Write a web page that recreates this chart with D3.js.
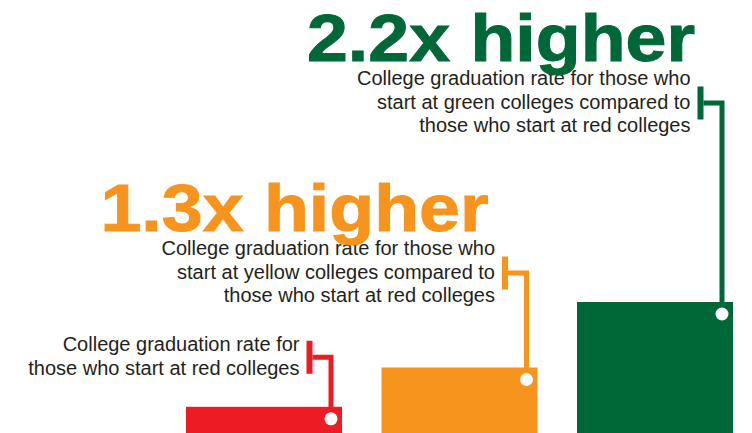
<!DOCTYPE html>
<html>
<head>
<meta charset="utf-8">
<script src="https://cdn.jsdelivr.net/npm/d3@7"></script>
<style>
  html, body { margin: 0; padding: 0; background: #fff; }
  svg { display: block; }
  .opis { font-family: "Liberation Sans", Arial, sans-serif; font-size: 20px; fill: #231f20; }
  .naslov { font-family: "Liberation Sans", Arial, sans-serif; font-size: 66px; font-weight: bold; }
</style>
</head>
<body>
<div id="okvir"></div>
<script>
// data
const categories = ["red", "yellow", "green"]
const barValues = [20, 50, 100]
const headlines = [null, "1.3x higher", "2.2x higher"]
const captions = [
  ["College graduation rate for", "those who start at red colleges"],
  ["College graduation rate for those who", "start at yellow colleges compared to", "those who start at red colleges"],
  ["College graduation rate for those who", "start at green colleges compared to", "those who start at red colleges"],
]

// layout of the annotations (first caption baseline, headline shift)
const captionTop = [351, 255, 85]
const headlineShift = [0, -38, -27]

function crtaj() {
  const dimenzije = { sirina: 752, visina: 433 }
  const lineH = 23.5

  const boja = d3.scaleOrdinal()
    .domain(categories)
    .range(["#ed1c24", "#f7941d", "#006837"])

  const xSkala = d3.scaleBand()
    .domain(categories)
    .range([186, 733])
    .paddingInner(0.202)
    .paddingOuter(0)

  const ySkala = d3.scaleLinear()
    .domain([0, 100])
    .range([dimenzije.visina, 302])

  const okvir = d3.select("#okvir")
    .append("svg")
    .attr("width", dimenzije.sirina)
    .attr("height", dimenzije.visina)

  const podaci = categories.map((c, i) => ({
    cat: c,
    value: barValues[i],
    headline: headlines[i],
    caption: captions[i],
    top: captionTop[i],
    shift: headlineShift[i],
  }))

  // bars
  okvir.selectAll(".stupac")
    .data(podaci)
    .enter().append("rect")
      .attr("class", "stupac")
      .attr("x", d => xSkala(d.cat))
      .attr("y", d => ySkala(d.value))
      .attr("width", xSkala.bandwidth())
      .attr("height", d => ySkala(0) - ySkala(d.value))
      .attr("fill", d => boja(d.cat))

  const anot = okvir.selectAll(".anot")
    .data(podaci)
    .enter().append("g")
      .attr("class", "anot")

  anot.each(function(d) {
    const g = d3.select(this)
    const col = boja(d.cat)
    const cx = xSkala(d.cat) + xSkala.bandwidth() - 11
    const barTop = ySkala(d.value)
    const n = d.caption.length
    const midY = d.top + (n - 1) * lineH / 2 - 5.5
    const bracketX = cx - 24.5

    // bracket
    g.append("rect")
      .attr("x", bracketX)
      .attr("y", midY - 16.5)
      .attr("width", 6)
      .attr("height", 33)
      .attr("fill", col)

    // connector
    g.append("path")
      .attr("d", `M${bracketX + 6},${midY} H${cx} V${barTop + 12}`)
      .attr("fill", "none")
      .attr("stroke", col)
      .attr("stroke-width", 5)
      .attr("stroke-linejoin", "miter")

    g.append("circle")
      .attr("cx", cx)
      .attr("cy", barTop + 12)
      .attr("r", 6.5)
      .attr("fill", "#fff")

    // caption
    const tekst = g.append("text")
      .attr("class", "opis")
      .attr("text-anchor", "end")
    d.caption.forEach((line, i) => {
      tekst.append("tspan")
        .attr("x", cx - 31.5)
        .attr("y", d.top + i * lineH)
        .text(line)
    })

    // headline
    if (d.headline) {
      g.append("text")
        .attr("class", "naslov")
        .attr("x", cx + d.shift)
        .attr("y", d.top - 24)
        .attr("text-anchor", "end")
        .attr("textLength", 388)
        .attr("lengthAdjust", "spacingAndGlyphs")
        .attr("fill", col)
        .attr("stroke", col)
        .attr("stroke-width", 1)
        .text(d.headline)
    }
  })
}
crtaj()
</script>
</body>
</html>
